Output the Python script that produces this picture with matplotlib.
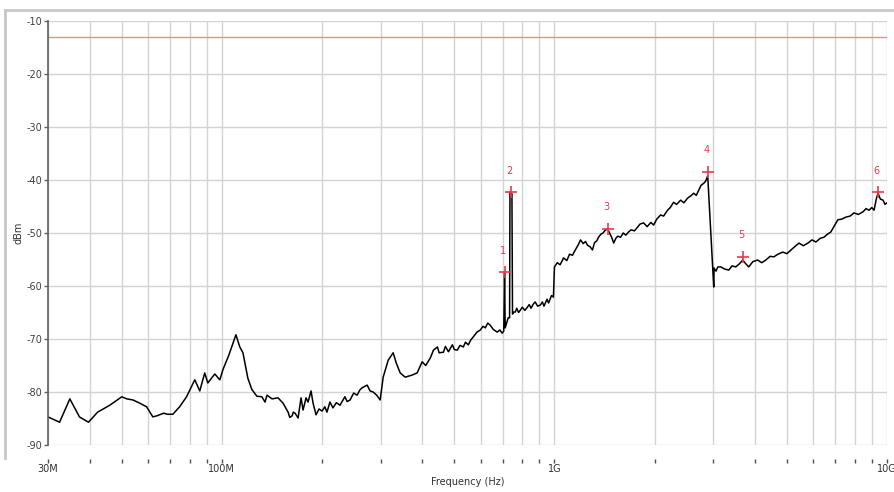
import matplotlib
matplotlib.use("Agg")
import matplotlib.pyplot as plt
from matplotlib.ticker import FixedLocator, NullFormatter
from matplotlib.lines import Line2D

plt.rcParams["axes.unicode_minus"] = False

# spectrum trace, frequency in MHz, level in dBm
freq_mhz = [30, 32.5, 34.9, 37.3, 39.7, 42.3, 46.0, 50.0, 51.8, 54.0, 56.6, 59.4, 62.0, 63.7,
            66.8, 68.7, 71.2, 74.6, 78.3, 82.9, 85.8, 88.8, 90.7, 95.2, 98.6, 100.7, 105, 110.2,
            113.2, 115.7, 119.7, 123, 127.4, 131.9, 134.8, 136.7, 141.5, 147.5, 152.7, 158.2, 160,
            162.6, 164, 166.0, 169.5, 173.0, 175.4, 179.1, 181.6, 185.4, 188.0, 191.9, 196, 200.0,
            204, 207.0, 211.3, 215.8, 221, 226.5, 234.4, 238, 243.0, 249, 255.1, 260, 264.1, 273.4,
            279, 285.0, 292, 299.2, 305.5, 316.3, 327.4, 334.3, 343.7, 355.8, 373.4, 386.5, 400.2,
            410, 423.3, 432.7, 444.8, 450, 463.6, 470, 480, 493.2, 500, 510.5, 520, 532.1, 540,
            550.8, 560, 570.2, 585, 598.5, 610, 619.5, 630, 641.2, 655, 673.0, 685, 696.6, 704,
            708, 711, 718, 726, 733, 735, 745, 748, 755, 763, 770, 780, 791, 800, 815, 829, 840,
            850, 864, 875, 890, 907, 920, 930, 939, 950, 960, 973, 980, 993, 1000, 1020, 1040,
            1065, 1090, 1110, 1133, 1160, 1180, 1198, 1220, 1240, 1257, 1280, 1301, 1320, 1340,
            1357, 1380, 1400, 1420, 1445, 1470, 1490, 1507, 1530, 1550, 1581, 1610, 1640, 1671,
            1700, 1740, 1778, 1810, 1854, 1900, 1950, 1987, 2030, 2085, 2130, 2188, 2230, 2281,
            2330, 2397, 2450, 2516, 2570, 2624, 2670, 2717, 2760, 2813, 2850, 2890, 3013, 3020,
            3060, 3100, 3162, 3250, 3343, 3420, 3508, 3600, 3683, 3760, 3839, 3950, 4085, 4200,
            4321, 4450, 4568, 4700, 4864, 5000, 5143, 5300, 5437, 5600, 5785, 5950, 6112, 6300,
            6461, 6600, 6779, 6950, 7116, 7300, 7527, 7750, 7955, 8200, 8468, 8650, 8829, 9000,
            9142, 9300, 9400, 9550, 9730, 9860, 10000]
level_dbm = [-84.7, -85.7, -81.3, -84.7, -85.7, -83.8, -82.5, -80.9, -81.3, -81.5, -82.1, -82.8,
             -84.7, -84.5, -84.0, -84.2, -84.2, -82.8, -80.9, -77.7, -79.8, -76.4, -78.3, -76.6,
             -77.7, -75.8, -73.0, -69.2, -71.5, -72.6, -77.4, -79.5, -80.8, -80.9, -81.9, -80.6,
             -81.3, -81.1, -82.1, -83.8, -84.8, -84.5, -83.8, -84.0, -84.9, -81.1, -83.4, -81.1,
             -81.9, -79.8, -82.1, -84.3, -83.2, -83.6, -82.8, -83.8, -81.9, -83.0, -82.0, -82.5,
             -80.9, -81.8, -81.5, -80.2, -80.6, -79.6, -79.2, -78.7, -79.8, -80.0, -80.6, -81.5,
             -77.2, -74.0, -72.6, -74.5, -76.4, -77.2, -76.8, -76.4, -74.3, -75.0, -73.6, -72.1,
             -71.5, -72.6, -72.5, -71.4, -72.4, -71.1, -72.0, -72.1, -71.2, -71.5, -70.6, -71.1,
             -70.2, -69.6, -68.7, -68.3, -67.6, -67.9, -67.0, -67.4, -68.2, -68.7, -68.3, -68.9,
             -68.5, -57.4, -67.9, -67.0, -66.0, -66.0, -42.3, -42.6, -65.3, -64.9, -64.9, -64.2,
             -65.0, -64.5, -64.0, -64.6, -64.0, -63.5, -64.2, -63.4, -63.0, -63.8, -63.6, -63.0,
             -63.8, -63.2, -62.5, -63.2, -62.3, -61.8, -62.1, -56.4, -55.6, -56.0, -54.7, -55.2,
             -54.0, -54.2, -53.0, -52.2, -51.3, -52.0, -51.6, -52.3, -52.6, -53.2, -51.8, -51.5,
             -50.8, -50.2, -50.0, -49.5, -49.2, -50.2, -51.0, -51.9, -51.0, -50.6, -50.8, -50.0,
             -50.4, -49.8, -49.4, -49.6, -48.9, -48.3, -48.1, -48.8, -48.0, -48.5, -47.4, -46.6,
             -46.8, -45.7, -45.2, -44.2, -44.6, -43.8, -44.3, -43.4, -43.0, -42.5, -42.9, -41.9,
             -41.0, -40.6, -40.2, -39.2, -60.2, -56.6, -57.2, -56.4, -56.4, -56.8, -57.0, -56.2,
             -56.4, -55.8, -55.1, -55.8, -56.4, -55.4, -55.1, -55.6, -55.1, -54.4, -54.5, -54.0,
             -53.6, -53.9, -53.2, -52.5, -51.9, -52.4, -51.9, -51.3, -51.7, -51.0, -50.8, -50.3,
             -49.8, -48.6, -47.5, -47.4, -47.0, -46.8, -46.2, -46.5, -46.0, -45.4, -45.7, -45.2,
             -45.7, -43.4, -42.5, -43.6, -43.8, -44.6, -44.3]

# peak markers
marker_names = ["1", "2", "3", "4", "5", "6"]
marker_mhz = [709, 740, 1445, 2890, 3683, 9400]
marker_dbm = [-57.4, -42.3, -49.2, -38.5, -54.5, -42.3]

limit_dbm = -13

major_hz = [30e6, 100e6, 1e9, 10e9]
major_labels = ["30M", "100M", "1G", "10G"]
minor_hz = [40e6, 50e6, 60e6, 70e6, 80e6, 90e6,
            200e6, 300e6, 400e6, 500e6, 600e6, 700e6, 800e6, 900e6,
            2e9, 3e9, 4e9, 5e9, 6e9, 7e9, 8e9, 9e9]

fig = plt.figure(figsize=(8.94, 4.92), dpi=100)
ax = fig.add_axes([48/894, 47/492, 839/894, 424/492])

fhz = [f * 1e6 for f in freq_mhz]
ax.plot(fhz, level_dbm, color="black", lw=1.1)
ax.axhline(limit_dbm, color="#f08a8a", lw=1.0)

mhz = [f * 1e6 for f in marker_mhz]
ax.plot(mhz, marker_dbm, linestyle="none", marker="+", color="#e83a4a", ms=8, mew=1.2)
for n, f, v in zip(marker_names, mhz, marker_dbm):
    ax.annotate(n, (f, v), xytext=(-1, 12), textcoords="offset points",
                ha="center", va="bottom", color="#e83a4a", fontsize=7)

ax.set_xscale("log")
ax.set_xlim(30e6, 10e9)
ax.set_ylim(-90, -10)
ax.xaxis.set_major_locator(FixedLocator(major_hz))
ax.xaxis.set_minor_locator(FixedLocator(minor_hz))
ax.set_xticklabels(major_labels)
ax.xaxis.set_minor_formatter(NullFormatter())
ax.set_yticks(range(-90, 0, 10))

ax.grid(True, which="both", color="#d4d4d4", lw=1.0)
ax.set_axisbelow(True)

for s in ["top", "right"]:
    ax.spines[s].set_visible(False)
ax.spines["left"].set_color("#606060")
ax.spines["left"].set_linewidth(1.2)
ax.spines["bottom"].set_position(("outward", 10))
ax.spines["bottom"].set_color("none")

ax.tick_params(axis="y", direction="out", length=3, width=1, color="#606060",
               labelsize=7, labelcolor="#404040", pad=1)
ax.tick_params(axis="x", which="both", direction="out", length=3, width=1,
               color="#505050", labelsize=7, labelcolor="#303030", pad=1)

ax.set_xlabel("Frequency (Hz)", fontsize=7, color="#303030", labelpad=2)
ax.set_ylabel("dBm", fontsize=7, color="#303030", labelpad=2)

# grey panel border
fig.add_artist(Line2D([5/894, 1], [1 - 10/492, 1 - 10/492], color="#c8c8c8", lw=2,
                      transform=fig.transFigure))
fig.add_artist(Line2D([5/894, 5/894], [1 - 10/492, 1 - 458/492], color="#c8c8c8", lw=2,
                      transform=fig.transFigure))

fig.savefig("out.png", dpi=100)
